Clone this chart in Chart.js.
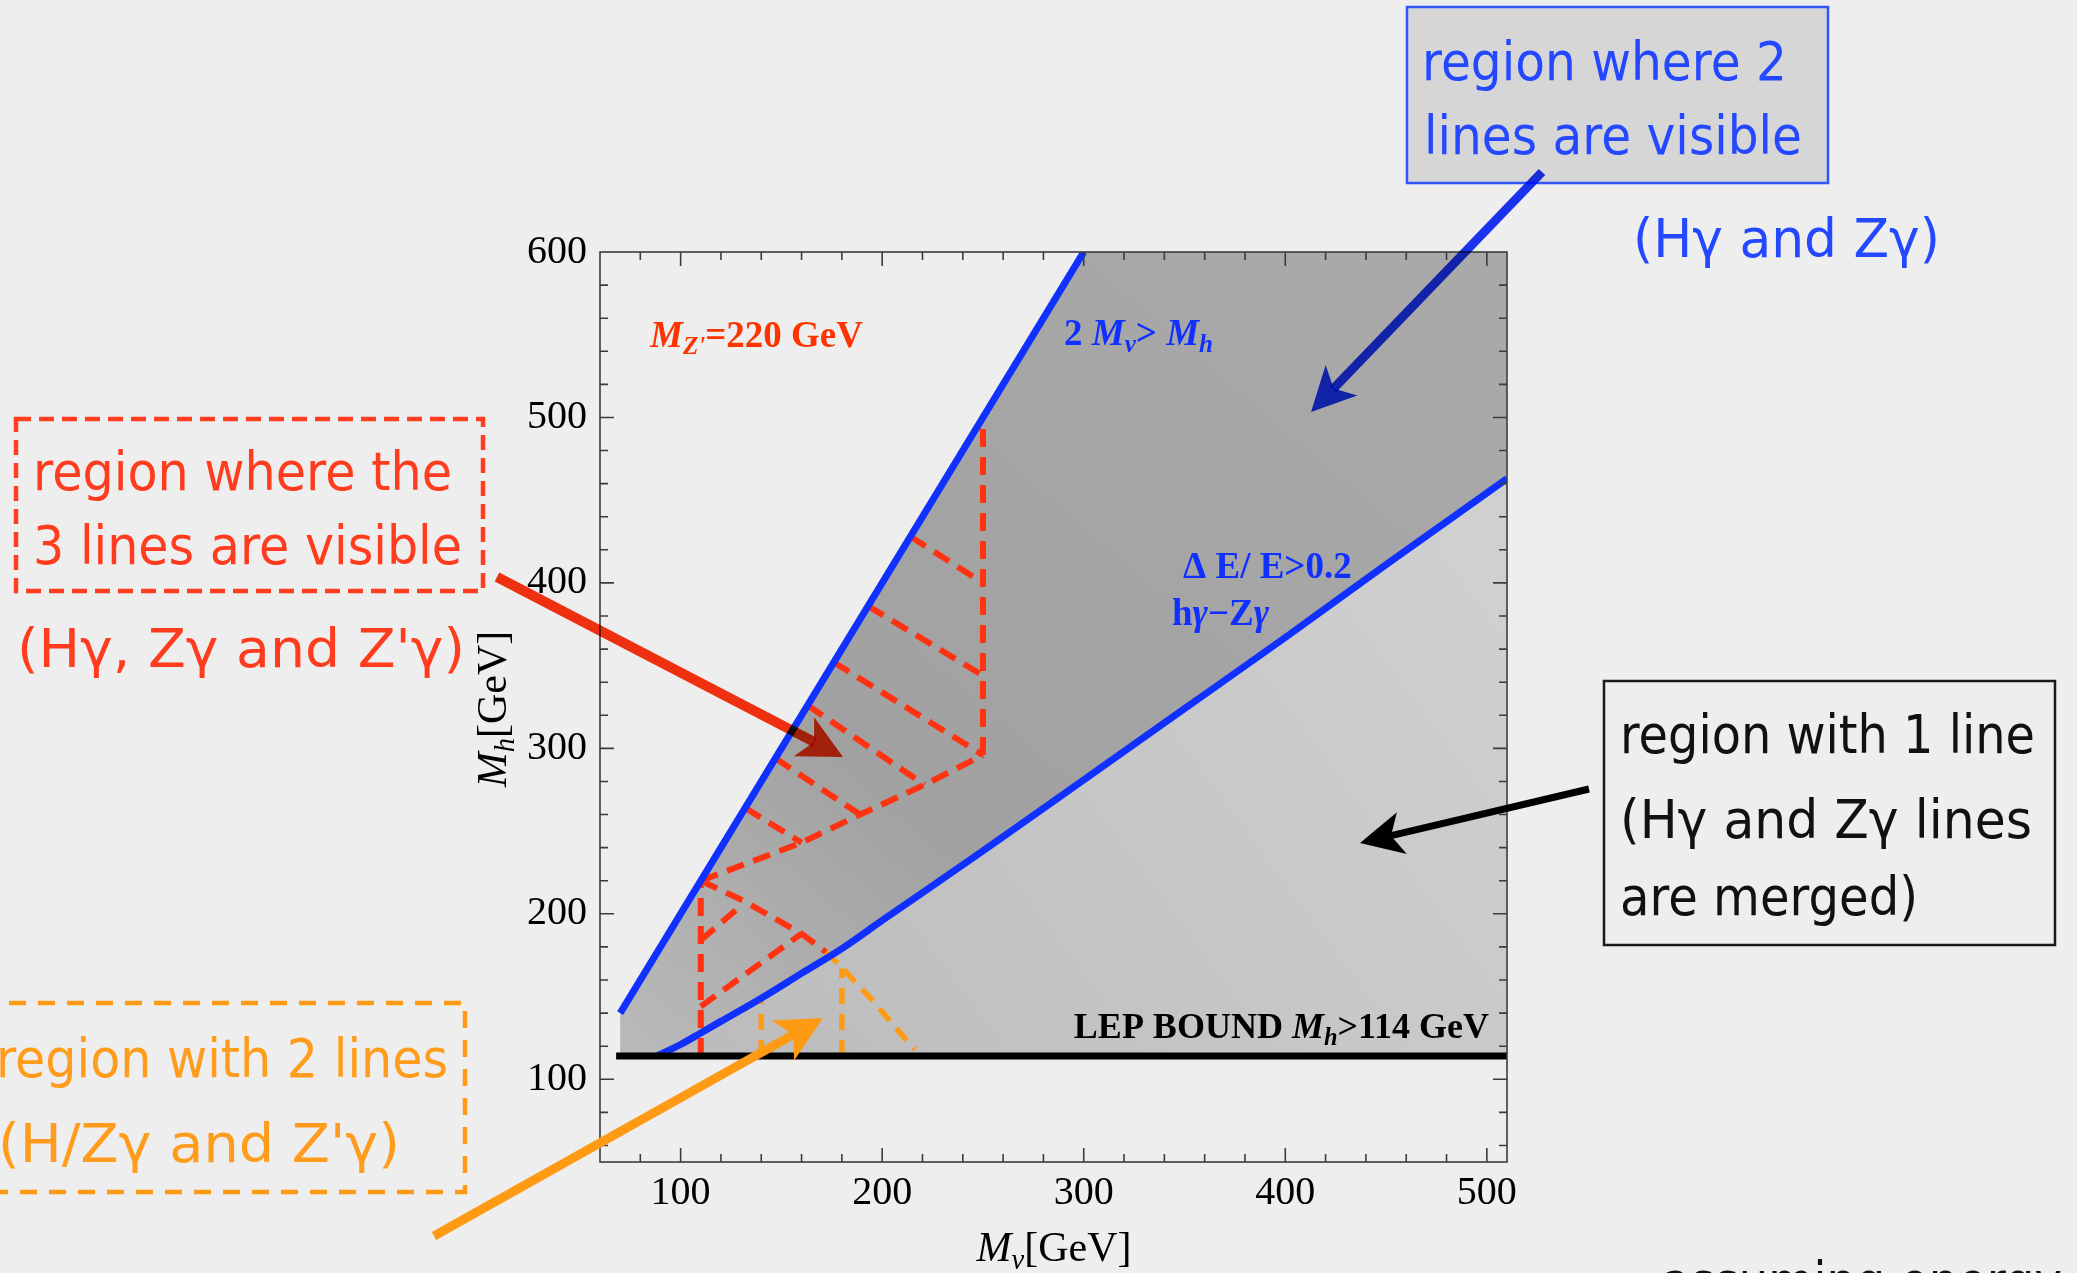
<!DOCTYPE html>
<html>
<head>
<meta charset="utf-8">
<script src="https://cdn.jsdelivr.net/npm/chart.js@4.4.0/dist/chart.umd.min.js"></script>
<style>
  html, body { margin: 0; padding: 0; background: #eeeeee; }
  canvas { display: block; }
</style>
</head>
<body>
<canvas id="massPlane" width="2077" height="1273"></canvas>
<script>
// tick labels (GeV)
const xTicks = [100, 200, 300, 400, 500];
const yTicks = [100, 200, 300, 400, 500, 600];

// 2 M_nu > M_h edge
const kinematicEdge = [[70, 140], [300, 600]];
// Delta E / E > 0.2 edge between h-gamma and Z-gamma
const resolutionEdge = [[88, 114], [100, 121], [110, 128], [120, 135], [140, 149], [160, 164],
  [180, 179], [200, 196], [250, 238], [300, 281], [350, 324], [400, 367], [450, 411], [510, 463]];
// LEP bound M_h > 114 GeV
const lepBound = [[68, 114], [510, 114]];
const regionLeft = 70, regionRight = 510, regionTop = 600, lepMass = 114;

// M_Z' = 220 GeV, three lines visible (red dashes)
const zpEdges = [
  [[110, 114], [110, 220]],
  [[110, 220], [160, 243], [189, 260], [221, 278], [250, 296]],
  [[250, 296], [250, 496]],
  [[110, 220], [131, 208], [160, 188], [172, 177]],
];
const zpHatch = [
  [[132, 264], [160, 243]],
  [[147, 294], [189, 260]],
  [[163, 326], [221, 278]],
  [[176, 352], [250, 296]],
  [[193, 386], [250, 344]],
  [[214, 428], [250, 400]],
  [[110, 184], [131, 206]],
  [[110, 144], [160, 188]],
];
// two lines visible (orange dashes)
const twoLineEdges = [
  [[172, 177], [178, 170], [195, 148], [216, 118]],
  [[140, 114], [140, 147]],
  [[180, 114], [180, 167]],
];

const BLUE = '#1030ff', RED = '#ff3311', ORANGE = '#ff9a14';
const SERIF = '"Liberation Serif", "Times New Roman", serif';
const HAND = '"DejaVu Sans", sans-serif';

function lineSet(seg, color, width, dash) {
  return {
    data: seg.map(([x, y]) => ({ x, y })),
    showLine: true,
    borderColor: color,
    borderWidth: width,
    borderDash: dash || [],
    pointRadius: 0,
    fill: false,
    tension: 0,
  };
}

const datasets = [
  lineSet(lepBound, '#000000', 7),
  lineSet(kinematicEdge, BLUE, 7),
  Object.assign(lineSet(resolutionEdge, BLUE, 7), { cubicInterpolationMode: 'monotone' }),
  ...zpEdges.concat(zpHatch).map(s => lineSet(s, RED, 6, [18, 10])),
  ...twoLineEdges.map(s => lineSet(s, ORANGE, 5.5, [16, 10])),
];

// mixed-style text runs: [text, style, subscript]
function runsWidth(ctx, runs, size) {
  let w = 0;
  for (const [t, st, sub] of runs) {
    ctx.font = `${st} ${sub ? size * 0.68 : size}px ${SERIF}`;
    w += ctx.measureText(t).width;
  }
  return w;
}
function drawRuns(ctx, runs, x, y, size, color, align) {
  ctx.save();
  ctx.fillStyle = color;
  ctx.textAlign = 'left';
  ctx.textBaseline = 'alphabetic';
  let cx = align === 'right' ? x - runsWidth(ctx, runs, size)
         : align === 'center' ? x - runsWidth(ctx, runs, size) / 2 : x;
  for (const [t, st, sub] of runs) {
    const fs = sub ? size * 0.68 : size;
    ctx.font = `${st} ${fs}px ${SERIF}`;
    ctx.fillText(t, cx, y + (sub ? size * 0.2 : 0));
    cx += ctx.measureText(t).width;
  }
  ctx.restore();
}

// hand-lettered note squeezed to a given width
function note(ctx, text, x, base, w, color, size) {
  ctx.save();
  ctx.font = `${size || 54}px ${HAND}`;
  ctx.fillStyle = color;
  ctx.textAlign = 'left';
  ctx.textBaseline = 'alphabetic';
  const m = ctx.measureText(text).width;
  ctx.translate(x, base);
  ctx.scale(w / m, 1);
  ctx.fillText(text, 0, 0);
  ctx.restore();
}

function arrow(ctx, x0, y0, x1, y1, color, width, len, blend) {
  const a = Math.atan2(y1 - y0, x1 - x0);
  const hw = len * 0.5;
  ctx.save();
  if (blend) ctx.globalCompositeOperation = 'multiply';
  ctx.strokeStyle = color;
  ctx.fillStyle = color;
  ctx.lineWidth = width;
  ctx.beginPath();
  ctx.moveTo(x0, y0);
  ctx.lineTo(x1 - Math.cos(a) * len * 0.72, y1 - Math.sin(a) * len * 0.72);
  ctx.stroke();
  ctx.translate(x1, y1);
  ctx.rotate(a);
  ctx.beginPath();
  ctx.moveTo(0, 0);
  ctx.lineTo(-len, -hw);
  ctx.lineTo(-len * 0.74, 0);
  ctx.lineTo(-len, hw);
  ctx.closePath();
  ctx.fill();
  ctx.restore();
}

const decor = {
  id: 'decor',
  beforeDraw(chart) {
    const { ctx, width, height } = chart;
    ctx.save();
    ctx.fillStyle = '#eeeeee';
    ctx.fillRect(0, 0, width, height);
    ctx.restore();
  },
  beforeDatasetsDraw(chart) {
    const { ctx, chartArea: a, scales: { x, y } } = chart;
    const P = ([u, v]) => [x.getPixelForValue(u), y.getPixelForValue(v)];
    const poly = (pts, fill) => {
      ctx.beginPath();
      pts.map(P).forEach(([px, py], i) => (i ? ctx.lineTo(px, py) : ctx.moveTo(px, py)));
      ctx.closePath();
      ctx.fillStyle = fill;
      ctx.fill();
    };
    ctx.save();
    ctx.beginPath();
    ctx.rect(a.left, a.top, a.right - a.left, a.bottom - a.top);
    ctx.clip();

    // band between the two blue edges
    const [b0x, b0y] = P([80, 114]), [b1x, b1y] = P([420, 600]);
    const dark = ctx.createLinearGradient(b0x, b0y, b1x, b1y);
    dark.addColorStop(0, '#b9b9b9');
    dark.addColorStop(0.35, '#a1a1a1');
    dark.addColorStop(1, '#a9a9a9');
    poly([[regionLeft, lepMass], ...kinematicEdge, [regionRight, regionTop],
      ...resolutionEdge.slice().reverse()], dark);

    // merged-line region down to the LEP bound
    const [l0x, l0y] = P([120, 114]), [l1x, l1y] = P([480, 440]);
    const light = ctx.createLinearGradient(l0x, l0y, l1x, l1y);
    light.addColorStop(0, '#bcbcbc');
    light.addColorStop(1, '#d0d0d0');
    poly([...resolutionEdge, [regionRight, lepMass]], light);
    ctx.restore();
  },
  afterDatasetsDraw(chart) {
    const { ctx, chartArea: a, scales: { x, y } } = chart;
    ctx.save();
    ctx.strokeStyle = '#3c3c3c';
    ctx.lineWidth = 1.6;
    ctx.strokeRect(a.left, a.top, a.right - a.left, a.bottom - a.top);
    ctx.beginPath();
    for (let v = 80; v <= 500; v += 20) {
      const px = x.getPixelForValue(v), len = v % 100 === 0 ? 14 : 8;
      ctx.moveTo(px, a.bottom); ctx.lineTo(px, a.bottom - len);
      ctx.moveTo(px, a.top); ctx.lineTo(px, a.top + len);
    }
    for (let v = 60; v <= 580; v += 20) {
      const py = y.getPixelForValue(v), len = v % 100 === 0 ? 14 : 8;
      ctx.moveTo(a.left, py); ctx.lineTo(a.left + len, py);
      ctx.moveTo(a.right, py); ctx.lineTo(a.right - len, py);
    }
    ctx.stroke();
    ctx.restore();

    drawRuns(ctx, [['M', 'italic bold'], ["Z'", 'italic bold', 1], ['=220 GeV', 'bold']], 650, 347, 37, '#ff3300');
    drawRuns(ctx, [['2 ', 'bold'], ['M', 'italic bold'], ['ν', 'italic bold', 1], ['> ', 'bold'],
      ['M', 'italic bold'], ['h', 'italic bold', 1]], 1064, 345, 37, BLUE);
    drawRuns(ctx, [['Δ E/ E>0.2', 'bold']], 1183, 578, 37, BLUE);
    drawRuns(ctx, [['h', 'bold'], ['γ', 'italic bold'], ['−Z', 'bold'], ['γ', 'italic bold']], 1172, 625, 37, BLUE);
    drawRuns(ctx, [['LEP BOUND ', 'bold'], ['M', 'italic bold'], ['h', 'italic bold', 1], ['>114 GeV', 'bold']],
      1489, 1038, 36, '#000000', 'right');
  },
  afterDraw(chart) {
    const { ctx } = chart;

    // axis titles
    drawRuns(ctx, [['M', 'italic'], ['ν', 'italic', 1], ['[GeV]', 'normal']], 1054, 1261, 42, '#000000', 'center');
    ctx.save();
    ctx.translate(506, 709);
    ctx.rotate(-Math.PI / 2);
    drawRuns(ctx, [['M', 'italic'], ['h', 'italic', 1], ['[GeV]', 'normal']], 0, 0, 42, '#000000', 'center');
    ctx.restore();

    // note boxes
    ctx.save();
    ctx.lineWidth = 4.5;
    ctx.strokeStyle = '#ff3d1f';
    ctx.setLineDash([15, 8]);
    ctx.strokeRect(16, 419, 467, 172);
    ctx.strokeStyle = ORANGE;
    ctx.setLineDash([17, 12]);
    ctx.strokeRect(-20, 1003, 485, 189);
    ctx.setLineDash([]);
    ctx.lineWidth = 2.5;
    ctx.fillStyle = '#d6d6d6';
    ctx.fillRect(1407, 7, 421, 176);
    ctx.strokeStyle = '#3355ff';
    ctx.strokeRect(1407, 7, 421, 176);
    ctx.fillStyle = '#eeeeee';
    ctx.fillRect(1604, 681, 451, 264);
    ctx.strokeStyle = '#1a1a1a';
    ctx.strokeRect(1604, 681, 451, 264);
    ctx.restore();

    const nRed = '#ff3c1e', nBlue = '#2448ff', nOrange = '#ff9c1c', nBlack = '#111111';
    note(ctx, 'region where the', 33, 490, 419, nRed);
    note(ctx, '3 lines are visible', 33, 564, 429, nRed);
    note(ctx, "(Hγ, Zγ and Z'γ)", 17, 667, 448, nRed);
    note(ctx, 'region where 2', 1422, 80, 365, nBlue);
    note(ctx, 'lines are visible', 1424, 154, 378, nBlue);
    note(ctx, '(Hγ and Zγ)', 1633, 257, 307, nBlue);
    note(ctx, 'region with 1 line', 1620, 753, 415, nBlack);
    note(ctx, '(Hγ and Zγ lines', 1620, 838, 412, nBlack);
    note(ctx, 'are merged)', 1620, 915, 298, nBlack);
    note(ctx, 'region with 2 lines', -4, 1077, 452, nOrange);
    note(ctx, "(H/Zγ and Z'γ)", -2, 1162, 402, nOrange);
    ctx.save();
    ctx.font = `54px ${HAND}`;
    const wa = ctx.measureText('assuming energy').width;
    ctx.restore();
    note(ctx, 'assuming energy', 1662, 1300, wa * 0.86, nBlack);

    // pointers
    arrow(ctx, 1542, 172, 1311, 412, '#1a35ff', 9, 44, true);
    arrow(ctx, 497, 577, 843, 757, RED, 10, 44, true);
    arrow(ctx, 434, 1236, 823, 1018, ORANGE, 9, 46, false);
    arrow(ctx, 1589, 789, 1360, 843, '#000000', 7, 43, false);
  },
};

const tickFont = { family: SERIF, size: 40 };

new Chart(document.getElementById('massPlane'), {
  type: 'scatter',
  data: { datasets },
  options: {
    responsive: false,
    animation: false,
    layout: { padding: { top: 252, right: 570, bottom: 0, left: 0 } },
    plugins: { legend: { display: false }, tooltip: { enabled: false } },
    scales: {
      x: {
        type: 'linear', min: 60, max: 510,
        grid: { display: false, drawTicks: false },
        border: { display: false },
        ticks: { font: tickFont, color: '#000', padding: 7, maxRotation: 0 },
        afterBuildTicks: s => { s.ticks = xTicks.map(v => ({ value: v })); },
        afterFit: s => { s.height = 111; },
      },
      y: {
        type: 'linear', min: 50, max: 600,
        grid: { display: false, drawTicks: false },
        border: { display: false },
        ticks: { font: tickFont, color: '#000', padding: 13 },
        afterBuildTicks: s => { s.ticks = yTicks.map(v => ({ value: v })); },
        afterFit: s => { s.width = 600; },
      },
    },
  },
  plugins: [decor],
});
</script>
</body>
</html>
